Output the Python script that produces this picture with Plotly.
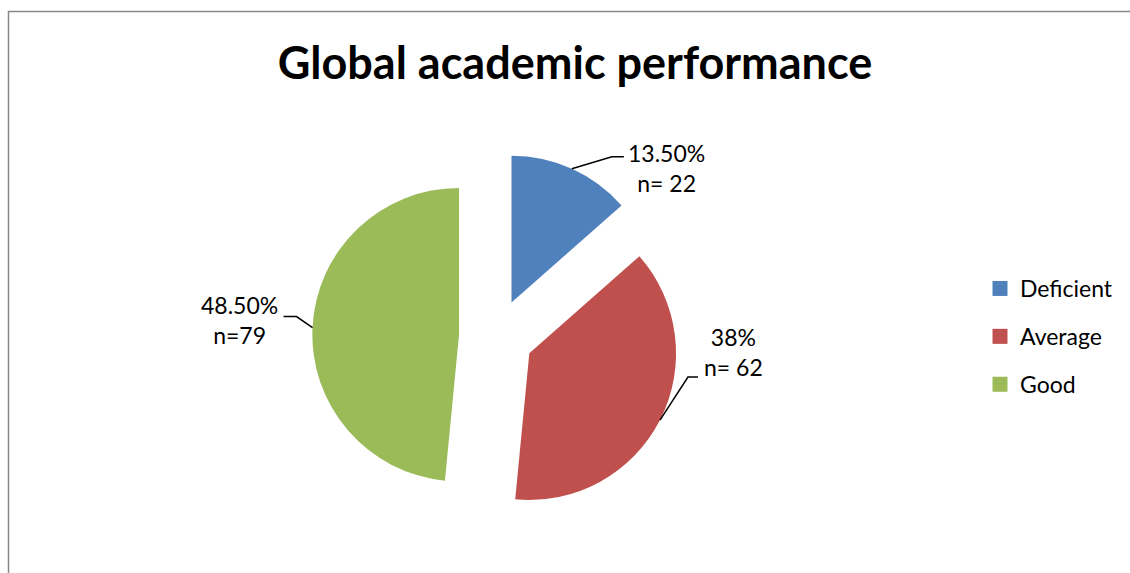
import math
import plotly.graph_objects as go

# ---- data ----
categories = ["Deficient", "Average", "Good"]
counts = [22, 62, 79]
pct_labels = ["13.50%", "38%", "48.50%"]
n_labels = ["n= 22", "n= 62", "n=79"]
colors = ["#4F81BD", "#C0504D", "#9BBB59"]

W, H = 1130, 573

# ---- pie geometry (pixels) ----
CX, CY = 496.2, 336.4
BOX = 367.8
PULL = 0.2536
R = BOX / (2 * (1 + PULL))

def px(x):
    return x / W

def py(y):
    return 1 - y / H

fig = go.Figure()
fig.add_trace(go.Pie(
    labels=categories, values=counts, sort=False, direction="clockwise",
    rotation=0, pull=[PULL] * 3, marker=dict(colors=colors, line=dict(width=0)),
    textinfo="none", hoverinfo="label+value+percent", showlegend=False,
    domain=dict(x=[px(CX - 200), px(CX + 200)], y=[py(CY + BOX / 2), py(CY - BOX / 2)]),
))

# legend entries (one per category)
for i, (c, col) in enumerate(zip(categories, colors)):
    fig.add_trace(go.Scatter(
        x=[None], y=[None], mode="markers", name=c, legendgroup=f"g{i}",
        marker=dict(symbol="square", size=15, color=col),
    ))

# leader lines + data labels
elbows = [[(40, -12), (52, -12)], [(28, -43), (38, -43)], [(-16, -11), (-29, -11)]]
label_centers = [(666, 168), (733, 352), (239, 320)]
total = sum(counts)
cum = 0
shapes = []
annotations = []
for i, v in enumerate(counts):
    mid = (cum + v / 2) / total * 360
    cum += v
    a = math.radians(mid)
    sx = CX + R * (1 + PULL) * math.sin(a)
    sy = CY - R * (1 + PULL) * math.cos(a)
    pts = [(sx, sy)] + [(sx + dx, sy + dy) for dx, dy in elbows[i]]
    path = "M " + " L ".join(f"{px(x):.5f},{py(y):.5f}" for x, y in pts)
    shapes.append(dict(type="path", xref="paper", yref="paper", path=path,
                       line=dict(color="black", width=1.5)))
    lx, ly = label_centers[i]
    annotations.append(dict(
        x=px(lx), y=py(ly), xref="paper", yref="paper", showarrow=False,
        text=f"{pct_labels[i]}<br>{n_labels[i]}", align="center",
        xanchor="center", yanchor="middle",
        font=dict(family="Lato", size=23, color="black"),
    ))

# chart border
shapes.append(dict(type="rect", xref="paper", yref="paper",
                   x0=px(8.5), x1=1.02, y0=-0.02, y1=py(11.5),
                   line=dict(color="#868686", width=1.5)))

fig.update_layout(
    width=W, height=H,
    margin=dict(l=0, r=0, t=0, b=0),
    paper_bgcolor="white", plot_bgcolor="white",
    title=dict(text="<b>Global academic performance</b>", x=px(575), y=py(63),
               xanchor="center", yanchor="middle",
               font=dict(family="Lato", size=45, color="black")),
    xaxis=dict(visible=False), yaxis=dict(visible=False),
    legend=dict(x=px(980), y=py(267), xanchor="left", yanchor="top",
                font=dict(family="Lato", size=23, color="black"),
                tracegroupgap=15, bgcolor="rgba(0,0,0,0)"),
    shapes=shapes, annotations=annotations,
)

fig.write_html("out.html")
